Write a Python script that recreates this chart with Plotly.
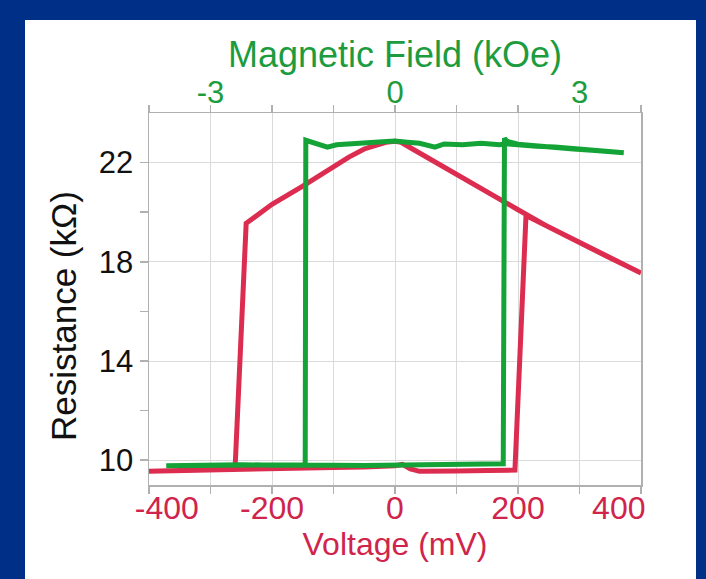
import plotly.graph_objects as go

# ---------------- data ----------------
# Red loop: resistance vs. voltage (mV)
red_voltage = [-400, -350, -300, -260, -200, -150, -100, -50, -20, 0, 12, 25, 40, 60, 100, 150, 195,
               213, 250, 300, 350, 400,
               350, 300, 250, 200, 150, 100, 50, 25, 10, 0, -15, -30, -50, -75, -100, -125, -150, -200, -242,
               -260, -300, -350, -400]
red_resistance = [9.55, 9.58, 9.62, 9.66, 9.68, 9.71, 9.71, 9.73, 9.74, 9.78, 9.83, 9.65, 9.55, 9.54, 9.56, 9.58, 9.60,
                  19.87, 19.40, 18.75, 18.15, 17.55,
                  18.15, 18.75, 19.40, 20.10, 20.80, 21.50, 22.22, 22.60, 22.82, 22.86, 22.82, 22.72, 22.55, 22.22, 21.82, 21.42, 21.05, 20.32, 19.55,
                  9.70, 9.62, 9.58, 9.55]

# Green loop: resistance vs. magnetic field (kOe)
green_field = [-3.72, -3.3, -3.0, -2.5, -2.0, -1.5, -1.0, -0.5, 0.0, 0.5, 1.0, 1.5, 1.76,
               1.78, 1.82, 2.0, 2.3, 2.6, 2.9, 3.2, 3.45, 3.72,
               3.45, 3.2, 2.9, 2.6, 2.3, 2.0, 1.8, 1.7, 1.4, 1.1, 0.8, 0.65, 0.4, 0.2, 0.0, -0.2, -0.5, -0.7,
               -0.95, -1.1, -1.3, -1.4, -1.45,
               -1.46, -2.0, -2.5, -3.0, -3.72]
green_resistance = [9.78, 9.80, 9.80, 9.82, 9.80, 9.82, 9.80, 9.79, 9.80, 9.82, 9.84, 9.85, 9.86,
                    22.98, 22.86, 22.74, 22.66, 22.60, 22.55, 22.50, 22.44, 22.40,
                    22.47, 22.52, 22.57, 22.63, 22.66, 22.72, 22.76, 22.72, 22.78, 22.72, 22.75, 22.62, 22.78, 22.82, 22.87, 22.84, 22.80, 22.78,
                    22.72, 22.62, 22.78, 22.82, 22.90,
                    9.82, 9.80, 9.81, 9.79, 9.78]

voltage_ticks = [-400, -300, -200, -100, 0, 100, 200, 300, 400]
voltage_labels = ["-400", "", "-200", "", "0", "", "200", "", "400"]
field_ticks = [-4, -3, -2, -1, 0, 1, 2, 3, 4]
field_labels = ["", "-3", "", "", "0", "", "", "3", ""]
res_major = [10, 14, 18, 22]
res_minor = [12, 16, 20]

# ---------------- style ----------------
NAVY = "#002f87"
RED = "#dc2c50"
RED_TXT = "#d0244c"
GREEN = "#14a336"
GREEN_TXT = "#1c9c3e"
GRID = "#dadada"
FRAME = "#b0b0b0"
FONT = "Liberation Sans, Arial, sans-serif"
NB = "\u00a0"

# end labels are nudged inward, as in the original figure
x_ticktext = list(voltage_labels)
x_ticktext[0] = NB * 4 + x_ticktext[0]
x_ticktext[-1] = x_ticktext[-1] + NB * 5

fig = go.Figure()
fig.add_trace(go.Scatter(x=green_field, y=green_resistance, mode="lines", xaxis="x2", yaxis="y",
                         line=dict(color=GREEN, width=5), hoverinfo="skip", showlegend=False))
fig.add_trace(go.Scatter(x=red_voltage, y=red_resistance, mode="lines", xaxis="x", yaxis="y",
                         line=dict(color=RED, width=5), hoverinfo="skip", showlegend=False))

PW, PH, L, T = 492, 372, 149, 113


def px(x):
    return (x - L) / PW


def py(y):
    return (T + PH - y) / PH


fig.update_layout(
    width=706, height=579, autosize=False,
    margin=dict(l=L, r=706 - L - PW, t=T, b=579 - T - PH),
    paper_bgcolor=NAVY, plot_bgcolor="white",
    font=dict(family=FONT),
    hovermode=False,
    shapes=[dict(type="rect", xref="paper", yref="paper",
                 x0=px(25), x1=px(696), y0=py(600), y1=py(20),
                 fillcolor="white", line=dict(width=0), layer="below")],
    annotations=[
        dict(text="Magnetic Field (kOe)", xref="paper", yref="paper", x=0.5, y=py(55),
             xanchor="center", yanchor="middle", showarrow=False,
             font=dict(size=36, color=GREEN_TXT)),
        dict(text="Resistance (kΩ)", xref="paper", yref="paper", x=px(63), y=py(316),
             xanchor="center", yanchor="middle", showarrow=False, textangle=-90,
             font=dict(size=35, color="#111111")),
    ],
    xaxis=dict(range=[-400, 400], tickvals=voltage_ticks, ticktext=x_ticktext,
               showgrid=True, gridcolor=GRID, gridwidth=1, zeroline=False,
               showline=True, linecolor=FRAME, linewidth=1.5, mirror=True,
               ticks="outside", ticklen=7, tickcolor=FRAME, tickwidth=1.5,
               ticklabelstandoff=-13,
               tickfont=dict(size=32, color=RED_TXT),
               title=dict(text="Voltage (mV)", font=dict(size=32, color=RED_TXT), standoff=4)),
    xaxis2=dict(range=[-4, 4], overlaying="x", side="top", anchor="y",
                tickvals=field_ticks, ticktext=field_labels,
                showgrid=False, zeroline=False, showline=False,
                ticks="outside", ticklen=7, tickcolor=FRAME, tickwidth=1.5,
                ticklabelstandoff=-10,
                tickfont=dict(size=31, color=GREEN_TXT)),
    yaxis=dict(range=[9, 24], tickvals=res_major, showgrid=True, gridcolor=GRID, gridwidth=1,
               zeroline=False, showline=True, linecolor=FRAME, linewidth=1.5, mirror=True,
               ticks="outside", ticklen=8, tickcolor=FRAME, tickwidth=1.5,
               tickfont=dict(size=31, color="#111111"),
               minor=dict(tickvals=res_minor, ticks="outside", ticklen=8, tickcolor=FRAME, showgrid=False)),
)

fig.write_html("out.html", config={"displayModeBar": False, "staticPlot": True},
               post_script="document.body.style.margin='0';document.body.style.overflow='hidden';")
